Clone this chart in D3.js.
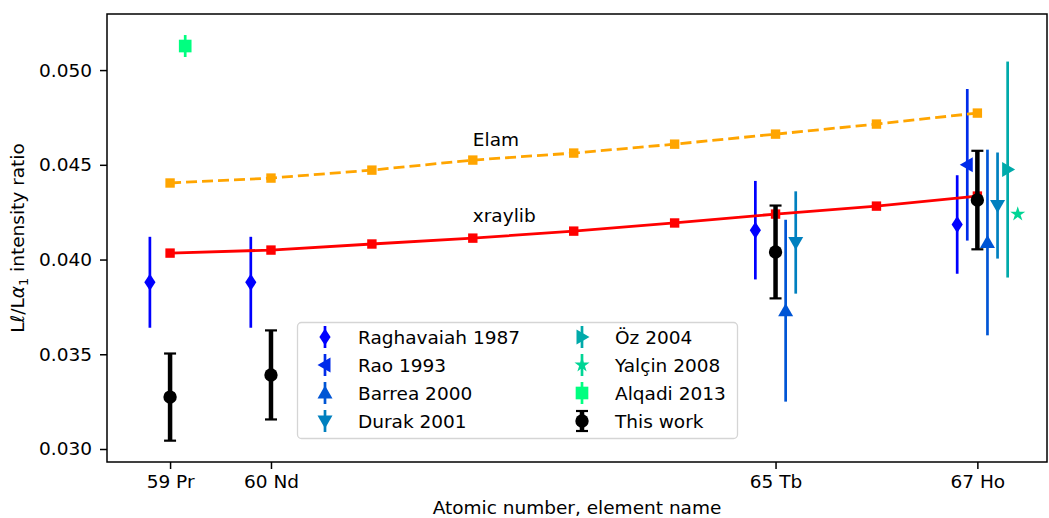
<!DOCTYPE html>
<html>
<head>
<meta charset="utf-8">
<script src="https://cdn.jsdelivr.net/npm/d3@7"></script>
<style>
  body { margin: 0; background: #fff; }
  text { font-family: "DejaVu Sans", sans-serif; }
</style>
</head>
<body>
<div id="chart"></div>
<script>
// model curves
const Z = [59, 60, 61, 62, 63, 64, 65, 66, 67];
const elam = [0.04404, 0.04430, 0.04472, 0.04525, 0.04562, 0.04609, 0.04662, 0.04715, 0.04773];
const xraylib = [0.04034, 0.04050, 0.04082, 0.04113, 0.04150, 0.04193, 0.04240, 0.04282, 0.04335];

// ticks
const tickZ = [59, 60, 65, 67];
const tickNames = ["59 Pr", "60 Nd", "65 Tb", "67 Ho"];
const yTicks = [0.030, 0.035, 0.040, 0.045, 0.050];

// literature values (shift = horizontal offset in Z so bars don't overlap)
const raghavaiahZ = [59, 60, 65, 67];
const raghavaiahVal = [0.0388, 0.0388, 0.04155, 0.04185];
const raghavaiahErr = [0.0024, 0.0024, 0.0026, 0.0026];

const raoZ = [67];
const raoVal = [0.0450];
const raoErr = [0.0040];

const barreaZ = [65, 67];
const barreaVal = [0.0373, 0.0409];
const barreaErr = [0.0048, 0.0049];

const durakZ = [65, 67];
const durakVal = [0.0409, 0.04285];
const durakErr = [0.0027, 0.0028];

const ozZ = [67];
const ozVal = [0.04475];
const ozErr = [0.0057];

const yalcinZ = [67];
const yalcinVal = [0.0424];
const yalcinErr = [0];

const alqadiZ = [59];
const alqadiVal = [0.05127];
const alqadiErr = [0.00058];

const thisZ = [59, 60, 65, 67];
const thisVal = [0.03274, 0.03391, 0.0404, 0.04314];
const thisErr = [0.0023, 0.00235, 0.00245, 0.0026];

const width = 1049, height = 518;
const margin = { top: 14, right: 2, bottom: 56, left: 107 };
const fs = 18.5;

const svg = d3.select("#chart").append("svg")
    .attr("width", width)
    .attr("height", height);

const x = d3.scaleLinear()
    .domain([58.375, 67.69])
    .range([margin.left, width - margin.right]);
const y = d3.scaleLinear()
    .domain([0.029314, 0.05296])
    .range([height - margin.bottom, margin.top]);

// winter colormap
const winter = t => d3.rgb(0, Math.round(255 * t), Math.round(255 * (1 - 0.5 * t))).formatHex();

const series = [
    { name: "Raghavaiah 1987", z: raghavaiahZ, v: raghavaiahVal, e: raghavaiahErr, shift: -0.2, shape: "d", color: winter(0) },
    { name: "Rao 1993", z: raoZ, v: raoVal, e: raoErr, shift: -0.1, shape: "<", color: winter(1 / 6) },
    { name: "Barrea 2000", z: barreaZ, v: barreaVal, e: barreaErr, shift: 0.1, shape: "^", color: winter(2 / 6) },
    { name: "Durak 2001", z: durakZ, v: durakVal, e: durakErr, shift: 0.2, shape: "v", color: winter(3 / 6) },
    { name: "Öz 2004", z: ozZ, v: ozVal, e: ozErr, shift: 0.3, shape: ">", color: winter(4 / 6) },
    { name: "Yalçin 2008", z: yalcinZ, v: yalcinVal, e: yalcinErr, shift: 0.4, shape: "*", color: winter(5 / 6) },
    { name: "Alqadi 2013", z: alqadiZ, v: alqadiVal, e: alqadiErr, shift: 0.15, shape: "s", color: winter(1) }
];

function markerPath(shape) {
    switch (shape) {
        case "d": return "M0,-8.5L5.6,0L0,8.5L-5.6,0Z";
        case "^": case "v": case "<": case ">":
            return "M0,-7.5L7.5,5.5L-7.5,5.5Z";
        case "*": return d3.symbol(d3.symbolStar, 70)();
        case "s": return d3.symbol(d3.symbolSquare, 160)();
        case "o": return d3.symbol(d3.symbolCircle, 140)();
    }
}
const rot = { "^": 0, "v": 180, "<": -90, ">": 90 };

function drawMarker(g, shape, cx, cy, color) {
    g.append("path")
        .attr("d", markerPath(shape))
        .attr("transform", `translate(${cx},${cy}) rotate(${rot[shape] || 0})`)
        .attr("fill", color);
}

const plot = svg.append("g");

// literature error bars
series.forEach(s => {
    const g = plot.append("g");
    s.z.forEach((z, i) => {
        const cx = x(z + s.shift);
        if (s.e[i] > 0) {
            g.append("line")
                .attr("x1", cx).attr("x2", cx)
                .attr("y1", y(s.v[i] - s.e[i])).attr("y2", y(s.v[i] + s.e[i]))
                .attr("stroke", s.color)
                .attr("stroke-width", 2.7);
        }
        drawMarker(g, s.shape, cx, y(s.v[i]), s.color);
    });
});

// model lines
const line = d3.line().x((d, i) => x(Z[i])).y(d => y(d));

plot.append("path")
    .datum(elam)
    .attr("d", line)
    .attr("fill", "none")
    .attr("stroke", "orange")
    .attr("stroke-width", 2.8)
    .attr("stroke-dasharray", "11,5");
plot.selectAll(".elamPt").data(elam).join("rect")
    .attr("x", (d, i) => x(Z[i]) - 4.7)
    .attr("y", d => y(d) - 4.7)
    .attr("width", 9.4).attr("height", 9.4)
    .attr("fill", "orange");

plot.append("path")
    .datum(xraylib)
    .attr("d", line)
    .attr("fill", "none")
    .attr("stroke", "red")
    .attr("stroke-width", 2.8);
plot.selectAll(".xrlPt").data(xraylib).join("rect")
    .attr("x", (d, i) => x(Z[i]) - 4.7)
    .attr("y", d => y(d) - 4.7)
    .attr("width", 9.4).attr("height", 9.4)
    .attr("fill", "red");

plot.append("text").attr("x", x(62)).attr("y", y(0.046))
    .attr("font-size", fs).text("Elam");
plot.append("text").attr("x", x(62)).attr("y", y(0.042))
    .attr("font-size", fs).text("xraylib");

// this work
const tw = plot.append("g");
thisZ.forEach((z, i) => {
    const cx = x(z);
    const y0 = y(thisVal[i] - thisErr[i]), y1 = y(thisVal[i] + thisErr[i]);
    tw.append("line").attr("x1", cx).attr("x2", cx).attr("y1", y0).attr("y2", y1)
        .attr("stroke", "black").attr("stroke-width", 4.5);
    [y0, y1].forEach(yy => tw.append("line")
        .attr("x1", cx - 6).attr("x2", cx + 6).attr("y1", yy).attr("y2", yy)
        .attr("stroke", "black").attr("stroke-width", 2.2));
    drawMarker(tw, "o", cx, y(thisVal[i]), "black");
});

// axes
const xAxis = svg.append("g")
    .attr("transform", `translate(0,${height - margin.bottom})`)
    .call(d3.axisBottom(x).tickValues(tickZ).tickFormat((d, i) => tickNames[i])
        .tickSize(7).tickPadding(6).tickSizeOuter(0));
const yAxis = svg.append("g")
    .attr("transform", `translate(${margin.left},0)`)
    .call(d3.axisLeft(y).tickValues(yTicks).tickFormat(d3.format(".3f"))
        .tickSize(7).tickPadding(8).tickSizeOuter(0));
[xAxis, yAxis].forEach(a => {
    a.select(".domain").remove();
    a.selectAll("line").attr("stroke", "black").attr("stroke-width", 1.5);
    a.selectAll("text").attr("font-size", fs).attr("fill", "black")
        .style("font-family", "DejaVu Sans");
});

svg.append("rect")
    .attr("x", margin.left).attr("y", margin.top)
    .attr("width", width - margin.left - margin.right)
    .attr("height", height - margin.top - margin.bottom)
    .attr("fill", "none").attr("stroke", "black").attr("stroke-width", 1.5);

svg.append("text")
    .attr("x", (margin.left + width - margin.right) / 2)
    .attr("y", 514)
    .attr("text-anchor", "middle")
    .attr("font-size", fs)
    .text("Atomic number, element name");

const ylab = svg.append("text")
    .attr("transform", `translate(24,${(margin.top + height - margin.bottom) / 2}) rotate(-90)`)
    .attr("text-anchor", "middle")
    .attr("font-size", fs);
ylab.append("tspan").text("Lℓ/L");
ylab.append("tspan").attr("font-style", "italic").text("α");
ylab.append("tspan").attr("font-size", 13).attr("dy", 4).text("1");
ylab.append("tspan").attr("dy", -4).text(" intensity ratio");

// legend
const leg = svg.append("g");
leg.append("rect")
    .attr("x", 297.5).attr("y", 322.5).attr("width", 440).attr("height", 116)
    .attr("rx", 4).attr("fill", "white").attr("fill-opacity", 0.8)
    .attr("stroke", "#d5d5d5").attr("stroke-width", 1.3);

const legItems = series.map(s => ({ name: s.name, shape: s.shape, color: s.color }))
    .concat([{ name: "This work", shape: "o", color: "black", caps: true }]);
legItems.forEach((it, i) => {
    const col = i < 4 ? 0 : 1;
    const row = i % 4;
    const mx = col === 0 ? 325 : 582;
    const my = 337 + row * 28;
    const g = leg.append("g");
    if (it.caps) {
        g.append("line").attr("x1", mx).attr("x2", mx).attr("y1", my - 10).attr("y2", my + 10)
            .attr("stroke", "black").attr("stroke-width", 4.5);
        [my - 10, my + 10].forEach(yy => g.append("line")
            .attr("x1", mx - 6).attr("x2", mx + 6).attr("y1", yy).attr("y2", yy)
            .attr("stroke", "black").attr("stroke-width", 2.2));
    } else {
        g.append("line").attr("x1", mx).attr("x2", mx).attr("y1", my - 11).attr("y2", my + 11)
            .attr("stroke", it.color).attr("stroke-width", 2.7);
    }
    drawMarker(g, it.shape, mx, my, it.color);
    g.append("text").attr("x", col === 0 ? 358 : 615).attr("y", my + 6.5)
        .attr("font-size", fs).text(it.name);
});
</script>
</body>
</html>
